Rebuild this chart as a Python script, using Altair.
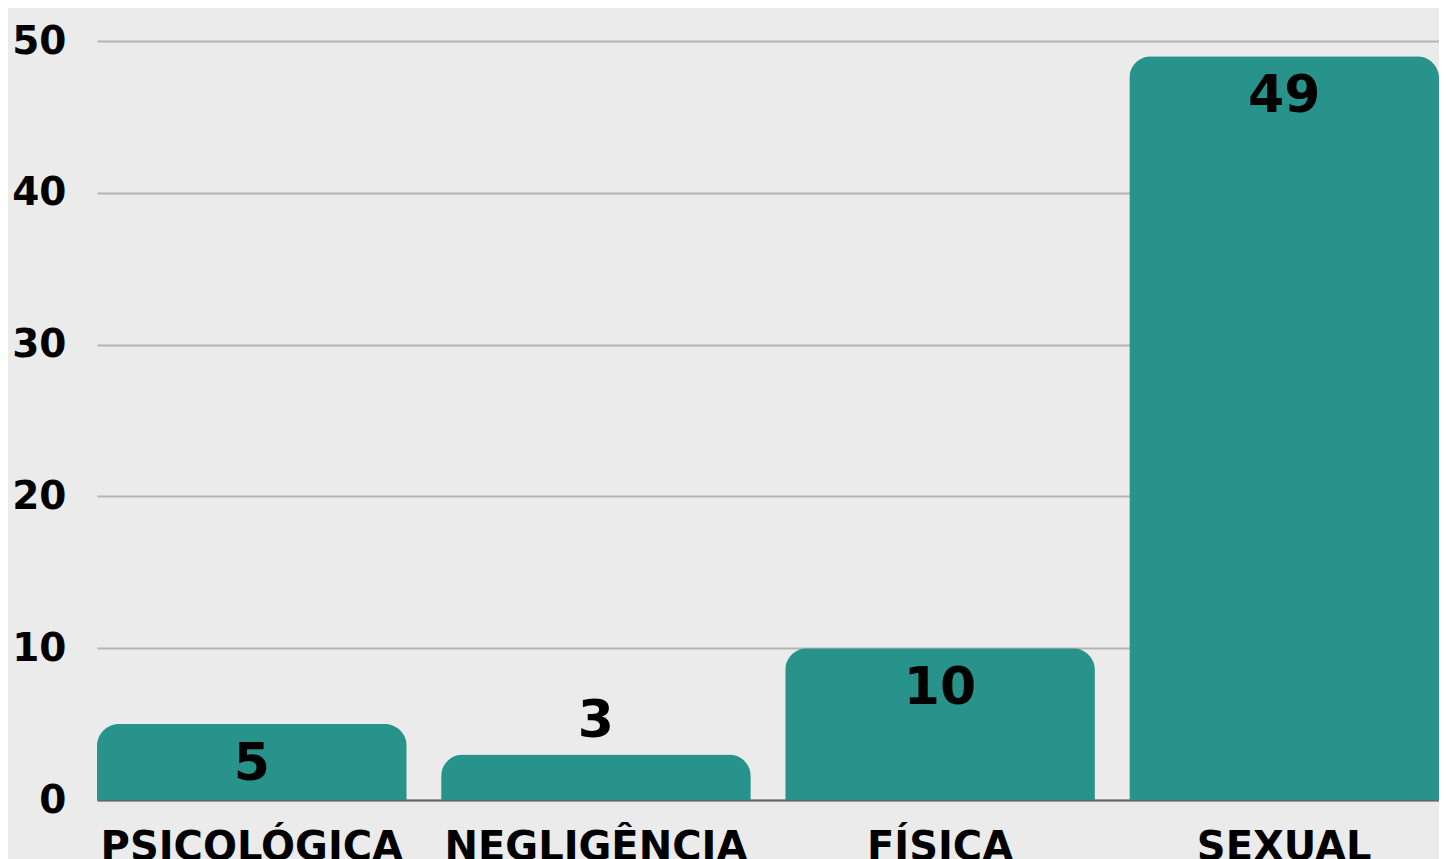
import altair as alt
import pandas as pd

categories = ["PSICOLÓGICA", "NEGLIGÊNCIA", "FÍSICA", "SEXUAL"]
values = [5, 3, 10, 49]
y_ticks = [0, 10, 20, 30, 40, 50]

df = pd.DataFrame({"cat": categories, "val": values})

FONT = "DejaVu Sans"
BAR = "#27938a"

base = alt.Chart(df).encode(
    x=alt.X("cat:N", sort=categories, title=None,
            scale=alt.Scale(paddingInner=0.1, paddingOuter=0),
            axis=alt.Axis(labelAngle=0, labelFont=FONT, labelFontWeight="bold",
                          labelFontSize=40, labelColor="#000000", labelPadding=27,
                          labelLimit=0, ticks=False, domain=True, domainColor="#666666",
                          domainWidth=2, grid=False, labelOverlap=False)),
    y=alt.Y("val:Q", title=None,
            scale=alt.Scale(domain=[0, 50], nice=False),
            axis=alt.Axis(values=y_ticks, labelFont=FONT, labelFontWeight="bold",
                          labelFontSize=39, labelColor="#000000", labelPadding=31,
                          ticks=False, domain=False, grid=True,
                          gridColor="#b3b3b3", gridWidth=2)),
)

bars = base.mark_bar(color=BAR, cornerRadiusTopLeft=22, cornerRadiusTopRight=22)

inside = base.transform_filter(alt.datum.val >= 4).mark_text(
    font=FONT, fontWeight="bold", fontSize=52, color="#000000",
    baseline="middle", dy=40
).encode(text="val:Q")

above = base.transform_filter(alt.datum.val < 4).mark_text(
    font=FONT, fontWeight="bold", fontSize=52, color="#000000",
    baseline="middle", dy=-33
).encode(text="val:Q")

chart = alt.layer(bars, inside, above).properties(
    width=1342, height=759,
    autosize=alt.AutoSizeParams(type="none"),
    padding={"left": 89, "top": 33, "right": 0, "bottom": 59},
    background="#ebebeb",
).configure_view(stroke=None)

chart.save("out.html", embed_options={"renderer": "svg", "actions": False})
